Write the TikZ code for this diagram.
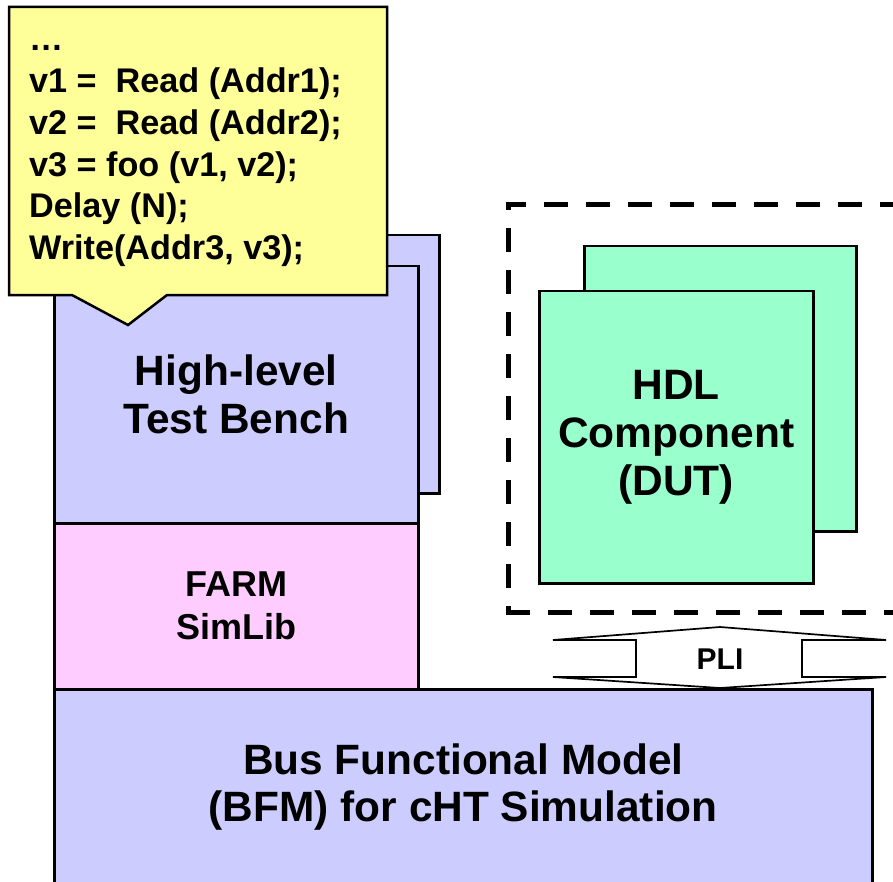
\documentclass[tikz,border=0pt]{standalone}
\usepackage{fontspec}
\setmainfont{Liberation Sans}
\definecolor{benchblue}{HTML}{CCCCFF}
\definecolor{libpink}{HTML}{FFCCFF}
\definecolor{noteyellow}{HTML}{FFFF99}
\definecolor{hdlgreen}{HTML}{99FFCC}
\begin{document}
\begin{tikzpicture}[x=1pt,y=-1pt,
  box/.style={draw=black, line width=2.5pt, inner sep=0pt, anchor=north west, align=center},
  big/.style={font=\fontsize{42.4}{48}\selectfont\bfseries},
  mid/.style={font=\fontsize{36}{43}\selectfont\bfseries},
  codeline/.style={anchor=base west, inner sep=0pt, font=\fontsize{34.2}{40}\selectfont\bfseries},
  frame/.style={line width=5pt, dash pattern=on 24pt off 18pt}]
\useasboundingbox (0,0) rectangle (893,882);
\clip (0,0) rectangle (893,882);

% test bench (two stacked sheets)
\node[box, fill=benchblue, minimum width=364pt, minimum height=258pt] (tbback) at (74,234) {};
\node[box, fill=benchblue, minimum width=364pt, minimum height=257pt, big] (tb) at (53,265) {High-level\\Test Bench};

% simulation library
\node[box, fill=libpink, minimum width=364pt, minimum height=166pt, mid] (farm) at (53,522) {FARM\\SimLib};

% bus functional model
\node[box, fill=benchblue, minimum width=818pt, minimum height=196pt, font=\fontsize{42.4}{47}\selectfont\bfseries] (bfm) at (53,688) {Bus Functional Model\\(BFM) for cHT Simulation};

% code callout
\draw[line width=2.5pt, line join=miter, fill=noteyellow]
  (9,7) -- (387,7) -- (387,295) -- (167,295) -- (128,325) -- (72,295) -- (9,295) -- cycle;
\node[codeline] (c0) at (29,51) {\dots};
\node[codeline] (c1) at (29,93) {v1 = ~Read (Addr1);};
\node[codeline] (c2) at (29,135) {v2 = ~Read (Addr2);};
\node[codeline] (c3) at (29,177) {v3 = foo (v1, v2);};
\node[codeline] (c4) at (29,218) {Delay (N);};
\node[codeline] (c5) at (29,260) {Write(Addr3, v3);};

% HDL component (two stacked sheets)
\node[box, fill=hdlgreen, minimum width=272pt, minimum height=285pt] (hdlback) at (583,245) {};
\node[box, fill=hdlgreen, minimum width=274pt, minimum height=292pt, font=\fontsize{42.5}{48}\selectfont\bfseries] (hdl) at (538,290) {HDL\\Component\\(DUT)};

% dashed enclosure around the DUT
\draw[frame, dash phase=19pt] (508,205) -- (508,612);
\draw[frame, dash phase=4pt] (505.5,205) -- (905,205);
\draw[frame] (505.5,612) -- (905,612);

% PLI double arrow
\draw[line width=1.7pt, line join=miter, fill=white]
  (553,640) -- (720,627) -- (886,640) -- (802,640) -- (802,677) -- (886,677)
  -- (720,688) -- (553,677) -- (636,677) -- (636,640) -- cycle;
\fill[white] (554,641.5) rectangle (635,675.5);
\fill[white] (803,641.5) rectangle (886,675.5);
\node[font=\fontsize{30}{34}\selectfont\bfseries] (pli) at (720,659) {PLI};
\end{tikzpicture}
\end{document}
